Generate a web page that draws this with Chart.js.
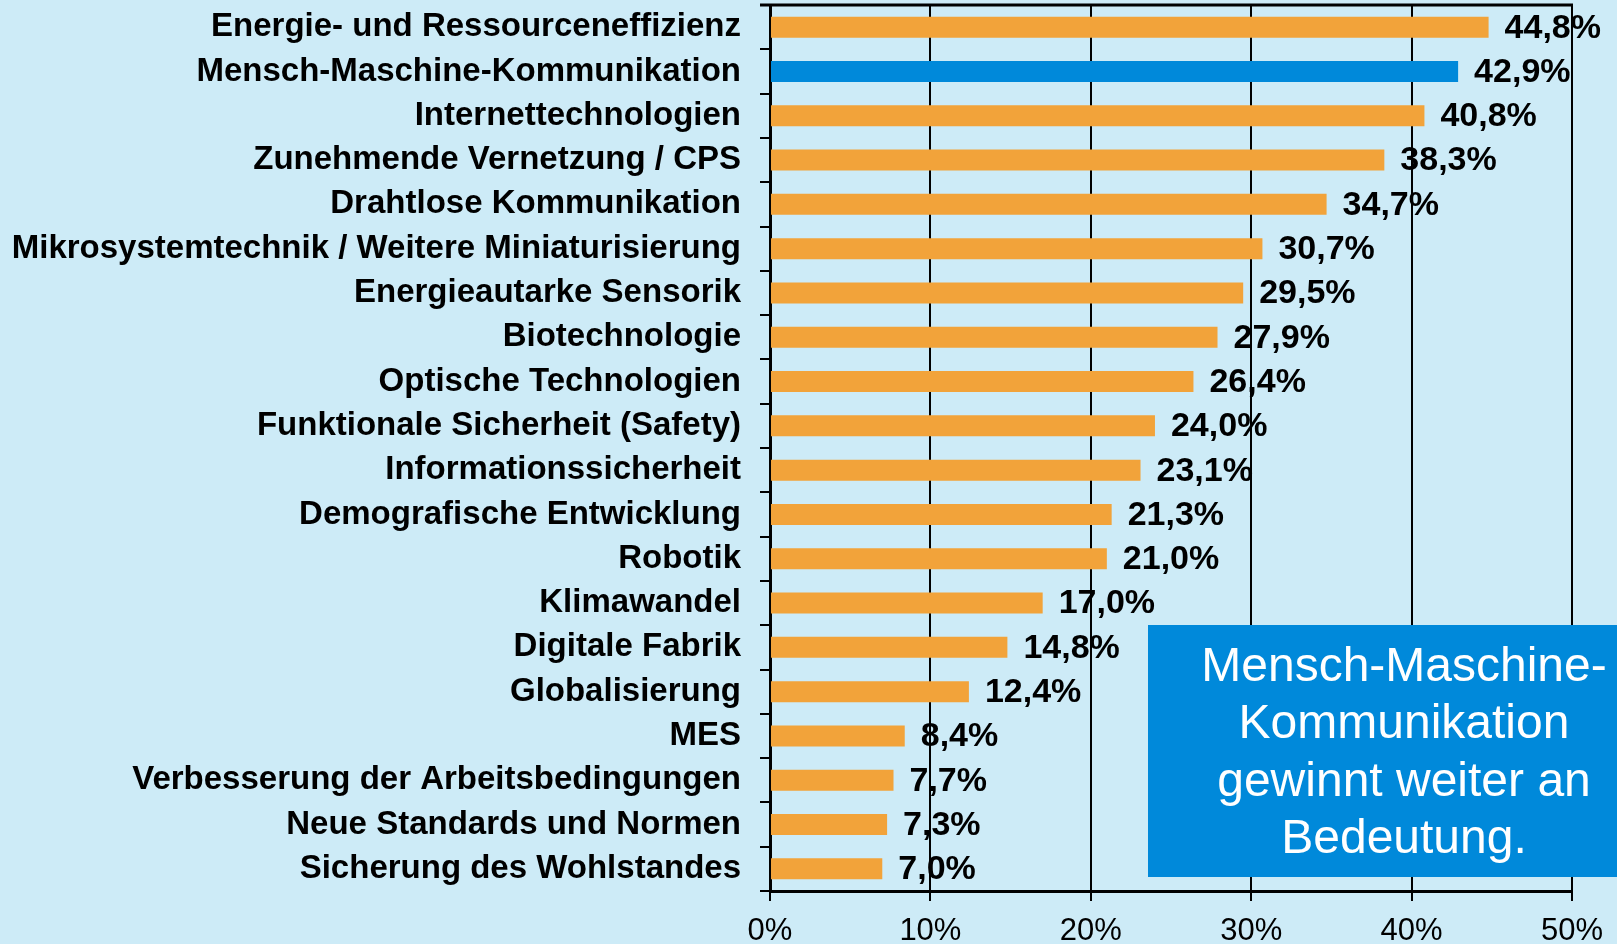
<!DOCTYPE html>
<html>
<head>
<meta charset="utf-8">
<script src="https://cdn.jsdelivr.net/npm/chart.js@4/dist/chart.umd.min.js"></script>
<style>
  html, body { margin: 0; padding: 0; background: #cdebf7; }
  #wrap { width: 1617px; height: 944px; position: relative; }
</style>
</head>
<body>
<div id="wrap"><canvas id="chart"></canvas></div>
<script>
const categories = [
  "Energie- und Ressourceneffizienz",
  "Mensch-Maschine-Kommunikation",
  "Internettechnologien",
  "Zunehmende Vernetzung / CPS",
  "Drahtlose Kommunikation",
  "Mikrosystemtechnik / Weitere Miniaturisierung",
  "Energieautarke Sensorik",
  "Biotechnologie",
  "Optische Technologien",
  "Funktionale Sicherheit (Safety)",
  "Informationssicherheit",
  "Demografische Entwicklung",
  "Robotik",
  "Klimawandel",
  "Digitale Fabrik",
  "Globalisierung",
  "MES",
  "Verbesserung der Arbeitsbedingungen",
  "Neue Standards und Normen",
  "Sicherung des Wohlstandes"
];
const values = [44.8, 42.9, 40.8, 38.3, 34.7, 30.7, 29.5, 27.9, 26.4, 24.0,
                23.1, 21.3, 21.0, 17.0, 14.8, 12.4, 8.4, 7.7, 7.3, 7.0];
const highlighted = "Mensch-Maschine-Kommunikation";
const xTicks = [0, 10, 20, 30, 40, 50];
const calloutLines = ["Mensch-Maschine-", "Kommunikation", "gewinnt weiter an", "Bedeutung."];

const ORANGE = "#f2a33a";
const BLUE = "#0089da";
const FONT = "'Liberation Sans', Arial, sans-serif";

const barColors = categories.map(c => c === highlighted ? BLUE : ORANGE);

// value labels to the right of each bar
const valueLabels = {
  id: "valueLabels",
  afterDatasetsDraw(chart) {
    const ctx = chart.ctx;
    const meta = chart.getDatasetMeta(0);
    ctx.save();
    ctx.font = "bold 34px " + FONT;
    ctx.fillStyle = "#000";
    ctx.textAlign = "left";
    ctx.textBaseline = "middle";
    meta.data.forEach((bar, i) => {
      const txt = values[i].toFixed(1).replace(".", ",") + "%";
      ctx.fillText(txt, bar.x + 16, bar.y + 1);
    });
    ctx.restore();
  }
};

// top frame line + callout box
const frameAndCallout = {
  id: "frameAndCallout",
  afterDraw(chart) {
    const ctx = chart.ctx;
    const a = chart.chartArea;
    ctx.save();
    ctx.strokeStyle = "#000";
    ctx.lineWidth = 3;
    ctx.beginPath();
    ctx.moveTo(a.left - 10, a.top);
    ctx.lineTo(a.right + 1, a.top);
    ctx.stroke();

    ctx.fillStyle = BLUE;
    ctx.fillRect(1148, 625, 1617 - 1148, 877 - 625);
    ctx.fillStyle = "#fff";
    ctx.font = "48px " + FONT;
    ctx.textAlign = "center";
    ctx.textBaseline = "alphabetic";
    calloutLines.forEach((t, i) => ctx.fillText(t, 1404, 681 + i * 57.3));
    ctx.restore();
  }
};

new Chart(document.getElementById("chart"), {
  type: "bar",
  data: {
    labels: categories,
    datasets: [{
      data: values,
      backgroundColor: barColors,
      borderWidth: 0,
      barPercentage: 0.475,
      categoryPercentage: 1
    }]
  },
  options: {
    indexAxis: "y",
    responsive: true,
    maintainAspectRatio: false,
    animation: false,
    layout: { padding: { top: 5, right: 45, left: 0, bottom: 0 } },
    plugins: { legend: { display: false }, tooltip: { enabled: false } },
    scales: {
      x: {
        min: 0,
        max: 50,
        afterBuildTicks: s => { s.ticks = xTicks.map(v => ({ value: v })); },
        afterFit: s => { s.height = 53; },
        grid: { color: "#000", lineWidth: 2, tickLength: 10, drawOnChartArea: true },
        border: { color: "#000", width: 3 },
        ticks: {
          color: "#000",
          padding: 12,
          font: { family: FONT, size: 31 },
          callback: v => v + "%"
        }
      },
      y: {
        afterFit: s => { s.width = 770; s.paddingTop = 0; s.paddingBottom = 0; },
        grid: { color: "#000", lineWidth: 2, tickLength: 10, drawOnChartArea: false },
        border: { color: "#000", width: 3 },
        ticks: {
          color: "#000",
          padding: 19,
          font: { family: FONT, size: 33, weight: "bold" }
        }
      }
    }
  },
  plugins: [valueLabels, frameAndCallout]
});
</script>
</body>
</html>
